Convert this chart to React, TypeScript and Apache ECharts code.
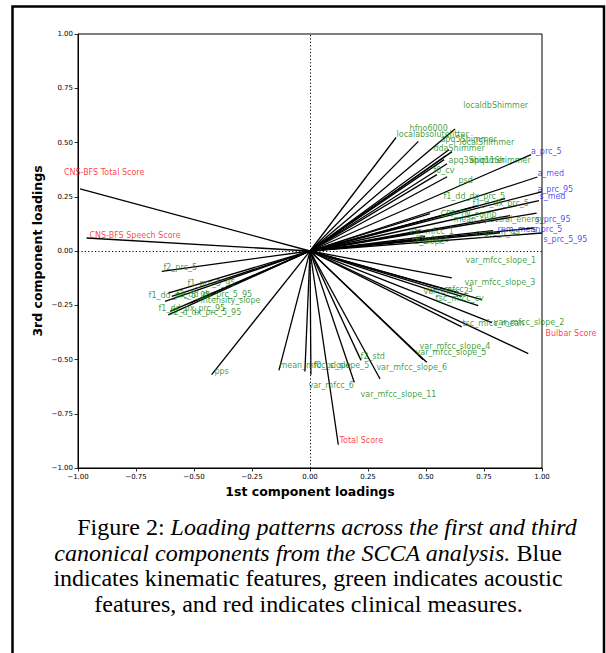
import React, { useEffect, useRef } from "react";
import * as echarts from "echarts";

// feature names, grouped: clinical (red), kinematic (blue), acoustic (green)
const names = [
  "CNS-BFS Total Score", "CNS-BFS Speech Score", "Bulbar Score", "Total Score",
  "a_prc_5", "a_med", "a_prc_95", "s_med", "s_prc_95", "rpm_mean", "s_prc_5", "s_prc_5_95",
  "localdbShimmer", "hfno6000", "localabsoluteJitter", "apq5Shimmer", "localShimmer", "ddaShimmer",
  "apq3Shimmer", "apq11Shimmer", "f0_cv", "psd", "f1_dd_dx_prc_5", "f1_d_dx_prc_5", "CPP_TN_comp",
  "mean_spectral_energy", "var_mfcc_1", "o_prc_5_95", "f0_slope", "f2_slope",
  "var_mfcc_slope_1", "var_mfcc_slope_3", "var_mfcc_2", "var_mfcc_3", "tsc_mfcc_cv", "tsc_mfcc_mean",
  "var_mfcc_slope_2", "var_mfcc_slope_4", "var_mfcc_slope_5", "var_mfcc_slope_6", "var_mfcc_slope_11",
  "f2_std", "var_mfcc_6", "f0_pc_slope_5", "mean_mfcc_slope", "pps",
  "f2_prc_5", "f1_prc_5_95", "f1_dd_prc_5_95", "f2_dd_dx_prc_5_95", "intensity_slope",
  "f1_dd_dx_prc_95", "f2_d_dx_prc_5_95",
];
const groups = [
  "clinical", "clinical", "clinical", "clinical",
  "kinematic", "kinematic", "kinematic", "kinematic", "kinematic", "kinematic", "kinematic", "kinematic",
  ...Array(41).fill("acoustic"),
];
// 1st component loadings
const loadX = [
  -0.991, -0.963, 0.941, 0.122,
  0.953, 0.98, 0.998, 0.987, 0.977, 0.789, 0.963, 0.999,
  0.625, 0.467, 0.371, 0.599, 0.612, 0.586, 0.578, 0.591, 0.547, 0.591, 0.841, 0.724, 0.517,
  0.862, 0.474, 0.819, 0.496, 0.453,
  0.611, 0.74, 0.654, 0.638, 0.725, 0.654, 0.784, 0.488, 0.503, 0.302, 0.191,
  0.22, 0.004, -0.022, -0.134, -0.424,
  -0.639, -0.611, -0.625, -0.596, -0.517, -0.603, -0.611,
];
// 3rd component loadings
const loadY = [
  0.286, 0.06, -0.473, -0.893,
  0.444, 0.341, 0.273, 0.232, 0.175, 0.094, 0.106, 0.083,
  0.562, 0.505, 0.523, 0.467, 0.458, 0.439, 0.421, 0.402, 0.352, 0.342, 0.241, 0.209, 0.172,
  0.163, 0.094, 0.084, 0.066, 0.052,
  -0.124, -0.224, -0.209, -0.192, -0.252, -0.35, -0.33, -0.501, -0.513, -0.59, -0.606,
  -0.504, -0.57, -0.555, -0.55, -0.57,
  -0.094, -0.194, -0.232, -0.209, -0.24, -0.278, -0.294,
];
// label anchor positions (left edge, vertical middle), in axis units
const labelX = [
  -1.063, -0.953, 1.013, 0.125,
  0.95, 0.978, 0.978, 0.987, 0.97, 0.806, 0.957, 1.004,
  0.658, 0.427, 0.371, 0.56, 0.642, 0.53, 0.595, 0.685, 0.53, 0.638, 0.573, 0.698, 0.56,
  0.616, 0.422, 0.711, 0.453, 0.435,
  0.668, 0.664, 0.487, 0.504, 0.539, 0.655, 0.789, 0.47, 0.453, 0.284, 0.216,
  0.216, -0.009, 0.013, -0.134, -0.414,
  -0.634, -0.53, -0.698, -0.578, -0.474, -0.655, -0.603,
];
const labelY = [
  0.364, 0.071, -0.381, -0.873,
  0.458, 0.356, 0.282, 0.252, 0.144, 0.101, 0.101, 0.052,
  0.67, 0.564, 0.536, 0.513, 0.5, 0.471, 0.418, 0.418, 0.371, 0.325, 0.249, 0.218, 0.167,
  0.144, 0.09, 0.08, 0.055, 0.045,
  -0.043, -0.147, -0.188, -0.176, -0.22, -0.335, -0.329, -0.44, -0.47, -0.535, -0.662,
  -0.486, -0.621, -0.529, -0.529, -0.555,
  -0.078, -0.152, -0.206, -0.201, -0.227, -0.263, -0.282,
];
const groupColors: Record<string, string> = {
  clinical: "rgba(255,0,0,0.95)",
  kinematic: "rgba(0,0,255,0.9)",
  acoustic: "rgba(0,128,0,0.95)",
};
const xTitle = "1st component loadings";
const yTitle = "3rd component loadings";
const captionLines = [
  "{n|Figure 2: }{i|Loading patterns across the first and third}",
  "{i|canonical components from the SCCA analysis.}{n| Blue}",
  "{n|indicates kinematic features, green indicates acoustic}",
  "{n|features, and red indicates clinical measures.}",
];

const fmtTick = (v: number) => v.toFixed(2).replace("-", "\u2212");

export default function App() {
  const ref = useRef<HTMLDivElement>(null);
  useEffect(() => {
    if (!ref.current) return;
    const chart = echarts.init(ref.current, null, { renderer: "svg" });
    const axisCommon = {
      type: "value",
      min: -1,
      max: 1,
      interval: 0.25,
      axisLine: { show: true, onZero: false, lineStyle: { color: "#000", width: 1 } },
      axisTick: { show: true, inside: false, length: 3.5, lineStyle: { color: "#000", width: 0.8 } },
      splitLine: { show: false },
    };
    const lineData = names.map((n, i) => ({ coords: [[0, 0], [loadX[i], loadY[i]]] }));
    const labelData = names.map((n, i) => ({
      name: n,
      value: [labelX[i], labelY[i]],
      label: { color: groupColors[groups[i]] },
    }));
    const fs = 24;
    const captionX = [327, 308, 308, 308.5];
    const captionY = [527, 552.5, 578, 604];
    const option: any = {
      animation: false,
      backgroundColor: "#fff",
      grid: {
        left: 78, right: 64, top: 34, bottom: 185,
        show: true, borderColor: "#000", borderWidth: 1, containLabel: false,
      },
      xAxis: {
        ...axisCommon,
        axisLabel: { formatter: fmtTick, fontSize: 7, color: "#000", fontFamily: "DejaVu Sans", margin: 5 },
      },
      yAxis: {
        ...axisCommon,
        axisLabel: { formatter: fmtTick, fontSize: 7, color: "#000", fontFamily: "DejaVu Sans", margin: 5 },
      },
      series: [
        {
          type: "lines",
          coordinateSystem: "cartesian2d",
          data: lineData,
          symbol: "none",
          silent: true,
          lineStyle: { color: "#000", width: 1.3, opacity: 1, curveness: 0 },
          z: 3,
        },
        {
          type: "scatter",
          data: [],
          markLine: {
            silent: true,
            symbol: "none",
            label: { show: false },
            lineStyle: { color: "#000", type: [1.2, 2.2], width: 1 },
            data: [{ xAxis: 0 }, { yAxis: 0 }],
          },
          z: 2,
        },
        {
          type: "scatter",
          data: labelData,
          symbolSize: 1,
          clip: false,
          itemStyle: { color: "transparent" },
          silent: true,
          label: {
            show: true,
            position: "right",
            distance: 0,
            formatter: "{b}",
            fontSize: 8,
            fontFamily: "DejaVu Sans",
          },
          labelLayout: { hideOverlap: false },
          z: 4,
        },
      ],
      graphic: [
        {
          type: "rect",
          shape: { x: 12.5, y: 6.5, width: 591.5, height: 700 },
          style: { fill: "none", stroke: "#000", lineWidth: 2.5 },
          silent: true,
        },
        {
          type: "text",
          x: 310,
          y: 491,
          style: {
            text: xTitle,
            fontFamily: "DejaVu Sans",
            fontWeight: "bold",
            fontSize: 12.5,
            fill: "#000",
            textAlign: "center",
            textVerticalAlign: "middle",
            align: "center",
            verticalAlign: "middle",
          },
        },
        {
          type: "text",
          x: 37,
          y: 251,
          rotation: Math.PI / 2,
          style: {
            text: yTitle,
            fontFamily: "DejaVu Sans",
            fontWeight: "bold",
            fontSize: 12.5,
            fill: "#000",
            textAlign: "center",
            textVerticalAlign: "middle",
            align: "center",
            verticalAlign: "middle",
          },
        },
        ...captionLines.map((t, i) => ({
          type: "text",
          x: captionX[i],
          y: captionY[i],
          style: {
            text: t,
            fill: "#000",
            fontFamily: "Liberation Serif",
            fontSize: fs,
            textAlign: "center",
            textVerticalAlign: "middle",
            align: "center",
            verticalAlign: "middle",
            rich: {
              n: { fontFamily: "Liberation Serif", fontSize: fs, fill: "#000", color: "#000" },
              i: { fontFamily: "Liberation Serif", fontSize: fs, fontStyle: "italic", fill: "#000", color: "#000" },
            },
          },
        })),
      ],
    };
    chart.setOption(option);
    return () => chart.dispose();
  }, []);
  return (
    <div
      ref={ref}
      style={{ position: "absolute", left: 0, top: 0, width: 606, height: 653, background: "#fff" }}
    />
  );
}
